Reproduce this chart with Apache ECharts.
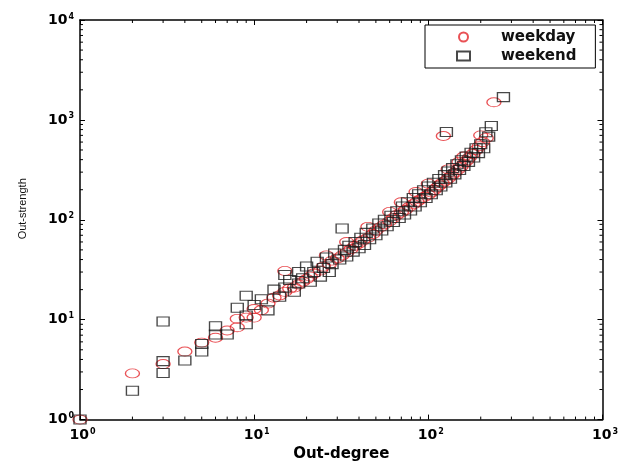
<!DOCTYPE html>
<html>
<head>
<meta charset="utf-8">
<script src="https://cdn.jsdelivr.net/npm/echarts@6/dist/echarts.min.js"></script>
<style>
  html, body { margin: 0; padding: 0; background: #fff; }
  #chart { width: 621px; height: 467px; }
</style>
</head>
<body>
<div id="chart"></div>
<script>
// Out-degree vs out-strength of nodes, weekday and weekend networks
const seriesNames = ['weekday', 'weekend'];

// [out-degree, out-strength]
const weekdayPoints = [
  [1, 1], [2, 2.9], [3, 3.6], [4, 4.8], [5, 5.9], [6, 6.6], [7, 7.8], [8, 8.4], [8, 10.2], [9, 10.5],
  [10, 10.5], [10, 12.8], [11, 12.5], [12, 14.5], [13, 16.6], [14, 17.5], [15, 30.8], [15, 19], [16, 20.5], [17, 21],
  [18, 22.5], [19, 24], [20, 25.5], [21, 27], [22, 29], [24, 31], [25, 34], [26, 44], [27, 36], [28, 39],
  [30, 41], [32, 44], [34, 47], [34, 60], [36, 51], [38, 55], [40, 58], [42, 62], [45, 66], [45, 85],
  [48, 72], [50, 78], [53, 84], [56, 90], [60, 97], [60, 120], [63, 104], [66, 112], [70, 118], [70, 150],
  [74, 126], [78, 135], [82, 143], [85, 190], [86, 152], [90, 160], [95, 170], [100, 178], [100, 230], [104, 188],
  [108, 199], [112, 210], [116, 222], [120, 233], [122, 690], [126, 246], [130, 320], [131, 262], [136, 278], [142, 296],
  [148, 318], [150, 380], [154, 340], [160, 365], [160, 430], [166, 390], [172, 420], [180, 455], [188, 500], [196, 545],
  [200, 700], [205, 600], [215, 660], [238, 1500]
];

const weekendPoints = [
  [1, 1], [2, 1.94], [3, 9.6], [3, 3.85], [3, 2.93], [4, 3.9], [5, 5.7], [5, 4.8], [6, 8.6], [6, 7.1],
  [7, 7.1], [8, 13.2], [9, 17.4], [9, 11], [9, 9], [10, 14], [11, 16], [12, 12.4], [13, 20], [14, 17],
  [15, 21], [15, 28], [16, 25], [17, 19], [18, 23], [18, 30], [19, 26], [20, 34], [21, 24], [22, 30],
  [23, 38], [24, 27], [25, 33], [26, 42], [27, 30], [28, 36], [29, 46], [31, 40], [32, 82], [33, 50],
  [34, 43], [35, 55], [37, 48], [38, 60], [40, 52], [41, 66], [43, 56], [44, 74], [46, 64], [48, 82],
  [50, 70], [52, 92], [54, 78], [56, 100], [58, 86], [61, 110], [63, 95], [66, 122], [68, 104], [71, 136],
  [73, 113], [76, 150], [79, 124], [82, 165], [84, 136], [88, 180], [90, 150], [94, 198], [97, 165], [100, 215],
  [104, 180], [107, 235], [111, 198], [115, 256], [118, 215], [124, 280], [126, 236], [127, 755], [130, 305], [134, 258],
  [138, 330], [142, 285], [146, 360], [151, 315], [155, 395], [160, 345], [165, 430], [170, 380], [176, 470], [182, 420],
  [188, 520], [194, 465], [200, 570], [208, 520], [214, 754], [222, 680], [230, 870], [270, 1690]
];

// Axis ranges (decades)
const xRange = [1, 1000];
const yRange = [1, 10000];

// Minor tick positions 2..9 within each decade
function minorTicks(lo, hi) {
  const out = [];
  for (let d = lo; d < hi; d *= 10) {
    for (let k = 2; k <= 9; k++) out.push(k * d);
  }
  return out;
}
const xMinor = minorTicks(xRange[0], xRange[1]);
const yMinor = minorTicks(yRange[0], yRange[1]);

const AXIS_COLOR = '#000';
const labelFont = 'DejaVu Sans';
const MINOR_LEN = 3;

const powerLabel = {
  formatter: v => '{b|10}{e|' + Math.round(Math.log10(v)) + '}',
  rich: {
    b: { fontFamily: labelFont, fontWeight: 'bold', fontSize: 14, color: '#000' },
    e: { fontFamily: labelFont, fontWeight: 'bold', fontSize: 8, color: '#000', padding: [0, 0, 7, 1] }
  }
};

const boxLine = { show: true, onZero: false, lineStyle: { color: AXIS_COLOR, width: 1.5 } };
const majorTick = { show: true, inside: true, length: 5, lineStyle: { color: AXIS_COLOR, width: 1 } };

function tickLine(x1, y1, x2, y2) {
  return { type: 'line', shape: { x1, y1, x2, y2 }, style: { stroke: AXIS_COLOR, lineWidth: 1 } };
}

const chart = echarts.init(document.getElementById('chart'), null, { renderer: 'canvas' });

chart.setOption({
  backgroundColor: '#fff',
  animation: false,
  grid: { left: 80, right: 17, top: 20, bottom: 44 },
  legend: {
    data: seriesNames,
    orient: 'vertical',
    left: 425,
    top: 25,
    backgroundColor: '#fff',
    borderColor: '#000',
    borderWidth: 1,
    padding: [4, 19, 4, 31],
    itemWidth: 13,
    itemHeight: 9,
    itemGap: 3,
    textStyle: {
      fontFamily: labelFont, fontWeight: 'bold', fontSize: 15, color: '#111',
      lineHeight: 16, padding: [0, 0, 0, 26]
    }
  },
  xAxis: [
    {
      type: 'log', logBase: 10, min: xRange[0], max: xRange[1], position: 'bottom',
      name: 'Out-degree', nameLocation: 'middle', nameGap: 24,
      nameTextStyle: { fontFamily: labelFont, fontWeight: 'bold', fontSize: 15, color: '#000' },
      axisLine: boxLine, axisTick: majorTick, splitLine: { show: false },
      axisLabel: Object.assign({ margin: 8, padding: [0, 0, 0, 5] }, powerLabel)
    },
    {
      type: 'log', logBase: 10, min: xRange[0], max: xRange[1], position: 'top',
      axisLine: boxLine, axisTick: majorTick, splitLine: { show: false },
      axisLabel: { show: false }
    }
  ],
  yAxis: [
    {
      type: 'log', logBase: 10, min: yRange[0], max: yRange[1], position: 'left',
      name: 'Out-strength', nameLocation: 'middle', nameGap: 52, nameRotate: 90,
      nameTextStyle: {
        fontFamily: 'Liberation Sans', fontSize: 11, color: '#111',
        padding: [0, 0, 0, 22]
      },
      axisLine: boxLine, axisTick: majorTick, splitLine: { show: false },
      axisLabel: Object.assign({ margin: 6 }, powerLabel)
    },
    {
      type: 'log', logBase: 10, min: yRange[0], max: yRange[1], position: 'right',
      axisLine: boxLine, axisTick: majorTick, splitLine: { show: false },
      axisLabel: { show: false }
    }
  ],
  series: [
    {
      name: 'weekday',
      type: 'scatter',
      symbol: 'circle',
      symbolSize: [14, 9],
      clip: false,
      data: weekdayPoints,
      itemStyle: { color: 'transparent', borderColor: '#e3262b', borderWidth: 1.1 },
      emphasis: { disabled: true },
      z: 2
    },
    {
      name: 'weekend',
      type: 'scatter',
      symbol: 'rect',
      symbolSize: [12, 9],
      clip: false,
      data: weekendPoints,
      itemStyle: { color: 'transparent', borderColor: '#1a1a1a', borderWidth: 1.2 },
      emphasis: { disabled: true },
      z: 3
    },
    {
      // minor ticks on the bottom and top edges
      type: 'custom',
      clip: false,
      data: xMinor.map(v => [v, yRange[0]]),
      renderItem: (params, api) => {
        const v = api.value(0);
        const b = api.coord([v, yRange[0]]);
        const t = api.coord([v, yRange[1]]);
        return {
          type: 'group',
          children: [
            tickLine(b[0], b[1], b[0], b[1] - MINOR_LEN),
            tickLine(t[0], t[1], t[0], t[1] + MINOR_LEN)
          ]
        };
      },
      z: 5
    },
    {
      // minor ticks on the left and right edges
      type: 'custom',
      clip: false,
      data: yMinor.map(v => [xRange[0], v]),
      renderItem: (params, api) => {
        const v = api.value(1);
        const l = api.coord([xRange[0], v]);
        const r = api.coord([xRange[1], v]);
        return {
          type: 'group',
          children: [
            tickLine(l[0], l[1], l[0] + MINOR_LEN, l[1]),
            tickLine(r[0], r[1], r[0] - MINOR_LEN, r[1])
          ]
        };
      },
      z: 5
    }
  ]
});
</script>
</body>
</html>
